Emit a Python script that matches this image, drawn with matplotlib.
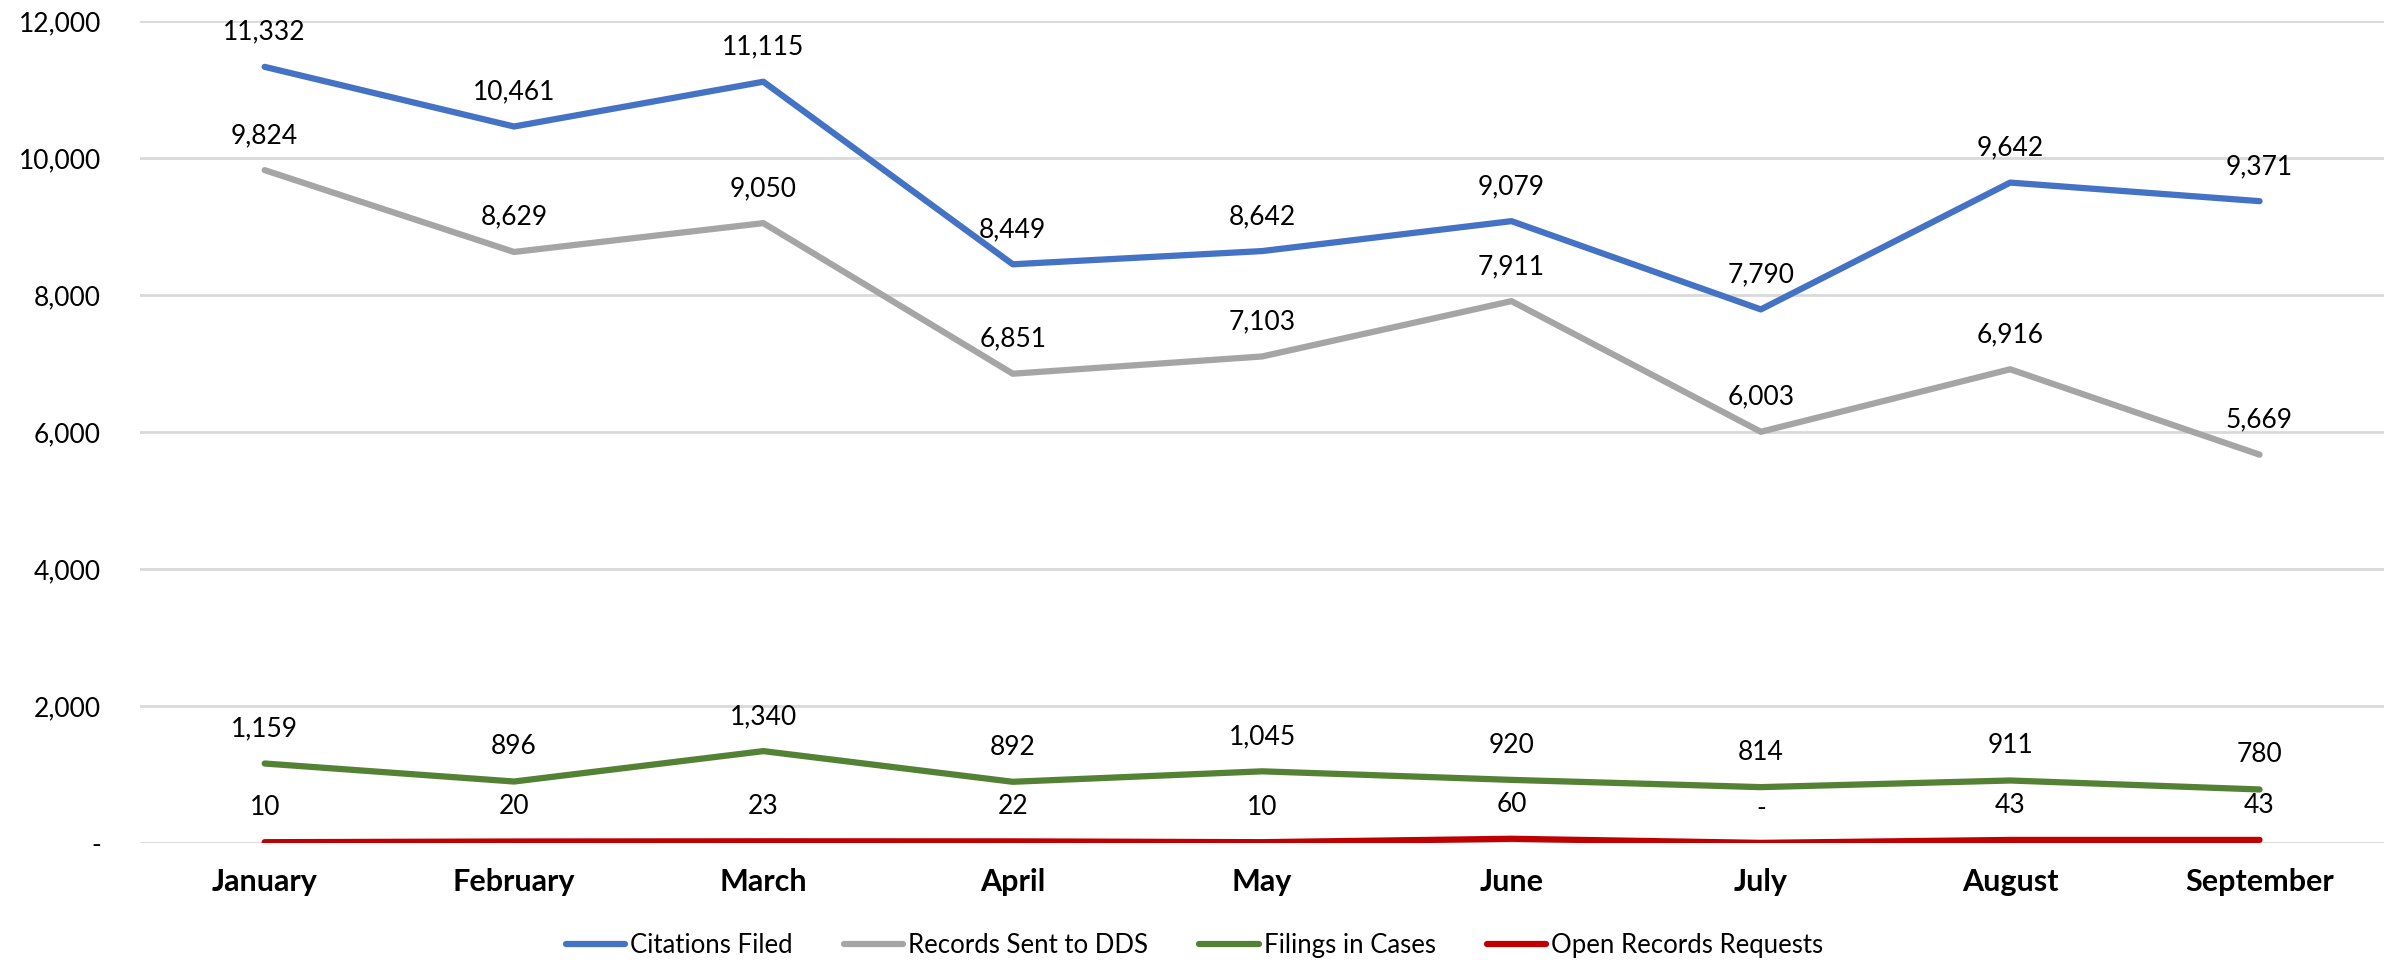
import numpy as np
import matplotlib.pyplot as plt

plt.rcParams['font.family'] = ['Lato', 'DejaVu Sans']

meses = ['January', 'February', 'March', 'April', 'May', 'June', 'July', 'August', 'September']
citations = [11332, 10461, 11115, 8449, 8642, 9079, 7790, 9642, 9371]
records_dds = [9824, 8629, 9050, 6851, 7103, 7911, 6003, 6916, 5669]
filings = [1159, 896, 1340, 892, 1045, 920, 814, 911, 780]
open_records = [10, 20, 23, 22, 10, 60, 0, 43, 43]

series = [
    ('Citations Filed', citations, '#4472C4'),
    ('Records Sent to DDS', records_dds, '#A5A5A5'),
    ('Filings in Cases', filings, '#548235'),
    ('Open Records Requests', open_records, '#C00000'),
]

def fmt(v):
    return '-' if v == 0 else f'{v:,.0f}'

fig = plt.figure(figsize=(23.89, 9.6), dpi=100)
ax = fig.add_axes([0.0586, 0.122, 0.9394, 0.856])

x = np.arange(len(meses))
for nombre, valores, color in series:
    ax.plot(x, valores, color=color, linewidth=4.5, label=nombre, solid_capstyle='round')
    for xi, v in zip(x, valores):
        ax.annotate(fmt(v), (xi, v), xytext=(0, 25), textcoords='offset points',
                    ha='center', va='center', fontsize=19, color='black')

ax.set_xlim(-0.5, len(meses) - 0.5)
ax.set_ylim(0, 12000)
ax.set_yticks(np.arange(0, 12001, 2000))
ax.set_yticklabels([fmt(v) for v in np.arange(0, 12001, 2000)], fontsize=19)
ax.set_xticks(x)
ax.set_xticklabels(meses, fontsize=22, fontweight='bold')
ax.tick_params(axis='both', length=0)
ax.tick_params(axis='x', pad=18)
ax.tick_params(axis='y', pad=28)
ax.grid(axis='y', color='#D9D9D9', linewidth=2)
ax.set_axisbelow(True)
for s in ax.spines.values():
    s.set_visible(False)

fig.legend(loc='center', bbox_to_anchor=(0.5, 0.015), ncol=4, frameon=False,
           fontsize=18.5, handlelength=2.3, columnspacing=2.0, handletextpad=0.2)

fig.savefig('out.png', dpi=100)
